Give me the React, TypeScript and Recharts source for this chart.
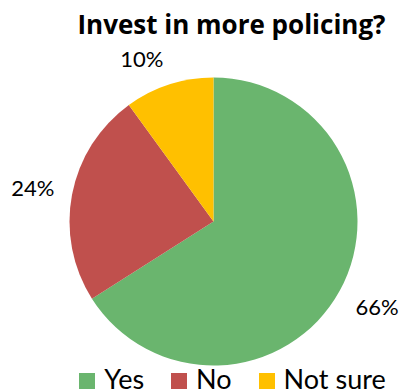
import { PieChart, Pie, Cell } from 'recharts'

const categories = ['Yes', 'No', 'Not sure']
const shares = [66, 24, 10]
const labels = ['66%', '24%', '10%']
const colors = ['#6AB56E', '#C0504D', '#FFC000']

const data = categories.map((name, i) => ({ name, value: shares[i] }))

const RAD = Math.PI / 180

// Excel-like "outside end" label: box corner sits just outside the slice
const renderLabel = (props: any) => {
  const { cx, cy, midAngle, outerRadius, index } = props
  const r = outerRadius + 18
  const cos = Math.cos(midAngle * RAD)
  const sin = Math.sin(midAngle * RAD)
  const px = cx + r * cos
  const py = cy - r * sin
  const h = 16
  const k = Math.max(-1, Math.min(1, sin * 2))
  const y = py + h / 2 - (h / 2) * k
  return (
    <text
      x={px}
      y={y}
      textAnchor={cos < 0 ? 'end' : 'start'}
      fill="#000"
      fontSize={22}
      fontFamily="Lato"
    >
      {labels[index]}
    </text>
  )
}

export default function App() {
  return (
    <div style={{ position: 'absolute', left: 0, top: 0, width: 403, height: 391, background: '#fff', overflow: 'hidden' }}>
      <div
        style={{
          position: 'absolute',
          left: 0,
          top: 6,
          width: 463,
          textAlign: 'center',
          fontFamily: 'Open Sans',
          fontWeight: 700,
          fontSize: 26,
          lineHeight: '36px',
          color: '#000',
        }}
      >
        Invest in more policing?
      </div>
      <PieChart width={403} height={391} margin={{ top: 0, right: 0, bottom: 0, left: 0 }}>
        <Pie
          data={data}
          dataKey="value"
          nameKey="name"
          cx={213.5}
          cy={221.5}
          outerRadius={144}
          startAngle={90}
          endAngle={-270}
          stroke="none"
          label={renderLabel}
          labelLine={false}
          isAnimationActive={false}
        >
          {data.map((d, i) => (
            <Cell key={d.name} fill={colors[i]} />
          ))}
        </Pie>
      </PieChart>
      <div
        style={{
          position: 'absolute',
          left: 0,
          top: 365,
          width: 465,
          display: 'flex',
          justifyContent: 'center',
          gap: 27,
          fontFamily: 'Lato',
          fontSize: 27,
          lineHeight: '27px',
          color: '#000',
        }}
      >
        {categories.map((c, i) => (
          <div key={c} style={{ display: 'flex', alignItems: 'flex-start', gap: 9 }}>
            <span style={{ width: 16, height: 16, marginTop: 8, background: colors[i], display: 'inline-block' }} />
            <span>{c}</span>
          </div>
        ))}
      </div>
    </div>
  )
}
